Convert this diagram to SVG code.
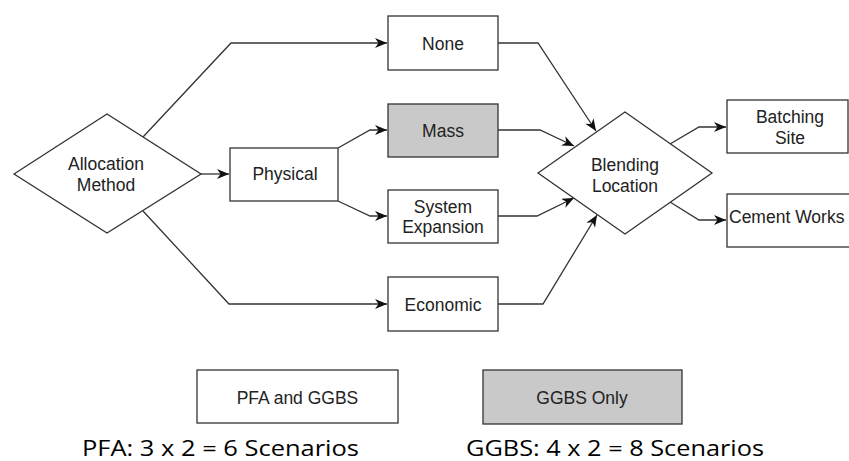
<svg xmlns="http://www.w3.org/2000/svg" width="849" height="461" viewBox="0 0 849 461">
  <defs>
    <style>
      .box { fill: #ffffff; stroke: #333333; stroke-width: 1.3; }
      .grey { fill: #c9c9c9; }
      .lbl { font-family: "Liberation Sans", Arial, sans-serif; font-size: 17.5px; fill: #222222; text-anchor: middle; }
      .cap { font-family: "Open Sans", "Liberation Sans", sans-serif; font-size: 22px; fill: #000000; }
      .edge { fill: none; stroke: #333333; stroke-width: 1.3; marker-end: url(#arrow); }
    </style>
    <marker id="arrow" markerWidth="14" markerHeight="12" refX="12" refY="5" orient="auto" markerUnits="userSpaceOnUse">
      <path d="M0,0 L12,5 L0,10 L3.5,5 Z" fill="#111111"/>
    </marker>
  </defs>
  <rect width="849" height="461" fill="#ffffff"/>

  <g id="connectors">
    <path class="edge" d="M143,137 L231,43 L387,43"/>
    <path class="edge" d="M201,174 L229,174"/>
    <path class="edge" d="M143,211 L229,304 L387,304"/>
    <path class="edge" d="M338,148 L370,130 L387,130"/>
    <path class="edge" d="M338,201 L370,216 L387,216"/>
    <path class="edge" d="M498,43 L538,43 L596,131"/>
    <path class="edge" d="M498,130 L540,130 L574,146"/>
    <path class="edge" d="M498,216 L537,216 L574,198"/>
    <path class="edge" d="M498,304 L543,304 L597,215"/>
    <path class="edge" d="M670,144 L699,127 L726,127"/>
    <path class="edge" d="M670,202 L699,220 L726,220"/>
  </g>

  <g id="allocation-method">
    <polygon class="box" points="14,174 107,114 201,174 107,233"/>
    <text class="lbl" x="106" y="170">Allocation</text>
    <text class="lbl" x="106" y="191">Method</text>
  </g>

  <g id="physical">
    <rect class="box" x="230" y="148" width="108" height="53"/>
    <text class="lbl" x="285" y="180">Physical</text>
  </g>

  <g id="none">
    <rect class="box" x="388" y="16" width="110" height="54"/>
    <text class="lbl" x="443" y="50">None</text>
  </g>

  <g id="mass">
    <rect class="box grey" x="388" y="104" width="110" height="53"/>
    <text class="lbl" x="443" y="137">Mass</text>
  </g>

  <g id="system-expansion">
    <rect class="box" x="388" y="190" width="110" height="53"/>
    <text class="lbl" x="443" y="213">System</text>
    <text class="lbl" x="443" y="233">Expansion</text>
  </g>

  <g id="economic">
    <rect class="box" x="388" y="277" width="110" height="54"/>
    <text class="lbl" x="443" y="311">Economic</text>
  </g>

  <g id="blending-location">
    <polygon class="box" points="538,173 625,112 712,173 625,234"/>
    <text class="lbl" x="625" y="171">Blending</text>
    <text class="lbl" x="625" y="192">Location</text>
  </g>

  <g id="batching-site">
    <rect class="box" x="727" y="100" width="121" height="53"/>
    <text class="lbl" x="790" y="123">Batching</text>
    <text class="lbl" x="790" y="144">Site</text>
  </g>

  <g id="cement-works">
    <rect class="box" x="727" y="194" width="135" height="53"/>
    <text class="lbl" x="729" y="223" style="text-anchor:start">Cement Works</text>
  </g>

  <g id="legend-pfa-ggbs">
    <rect class="box" x="197" y="370" width="201" height="53"/>
    <text class="lbl" x="297.5" y="404">PFA and GGBS</text>
  </g>

  <g id="legend-ggbs-only">
    <rect class="box grey" x="483" y="370" width="199" height="54"/>
    <text class="lbl" x="582" y="404">GGBS Only</text>
  </g>

  <text class="cap" x="82" y="456" textLength="277" lengthAdjust="spacingAndGlyphs">PFA: 3 x 2 = 6 Scenarios</text>
  <text class="cap" x="466" y="456" textLength="298" lengthAdjust="spacingAndGlyphs">GGBS: 4 x 2 = 8 Scenarios</text>
</svg>
